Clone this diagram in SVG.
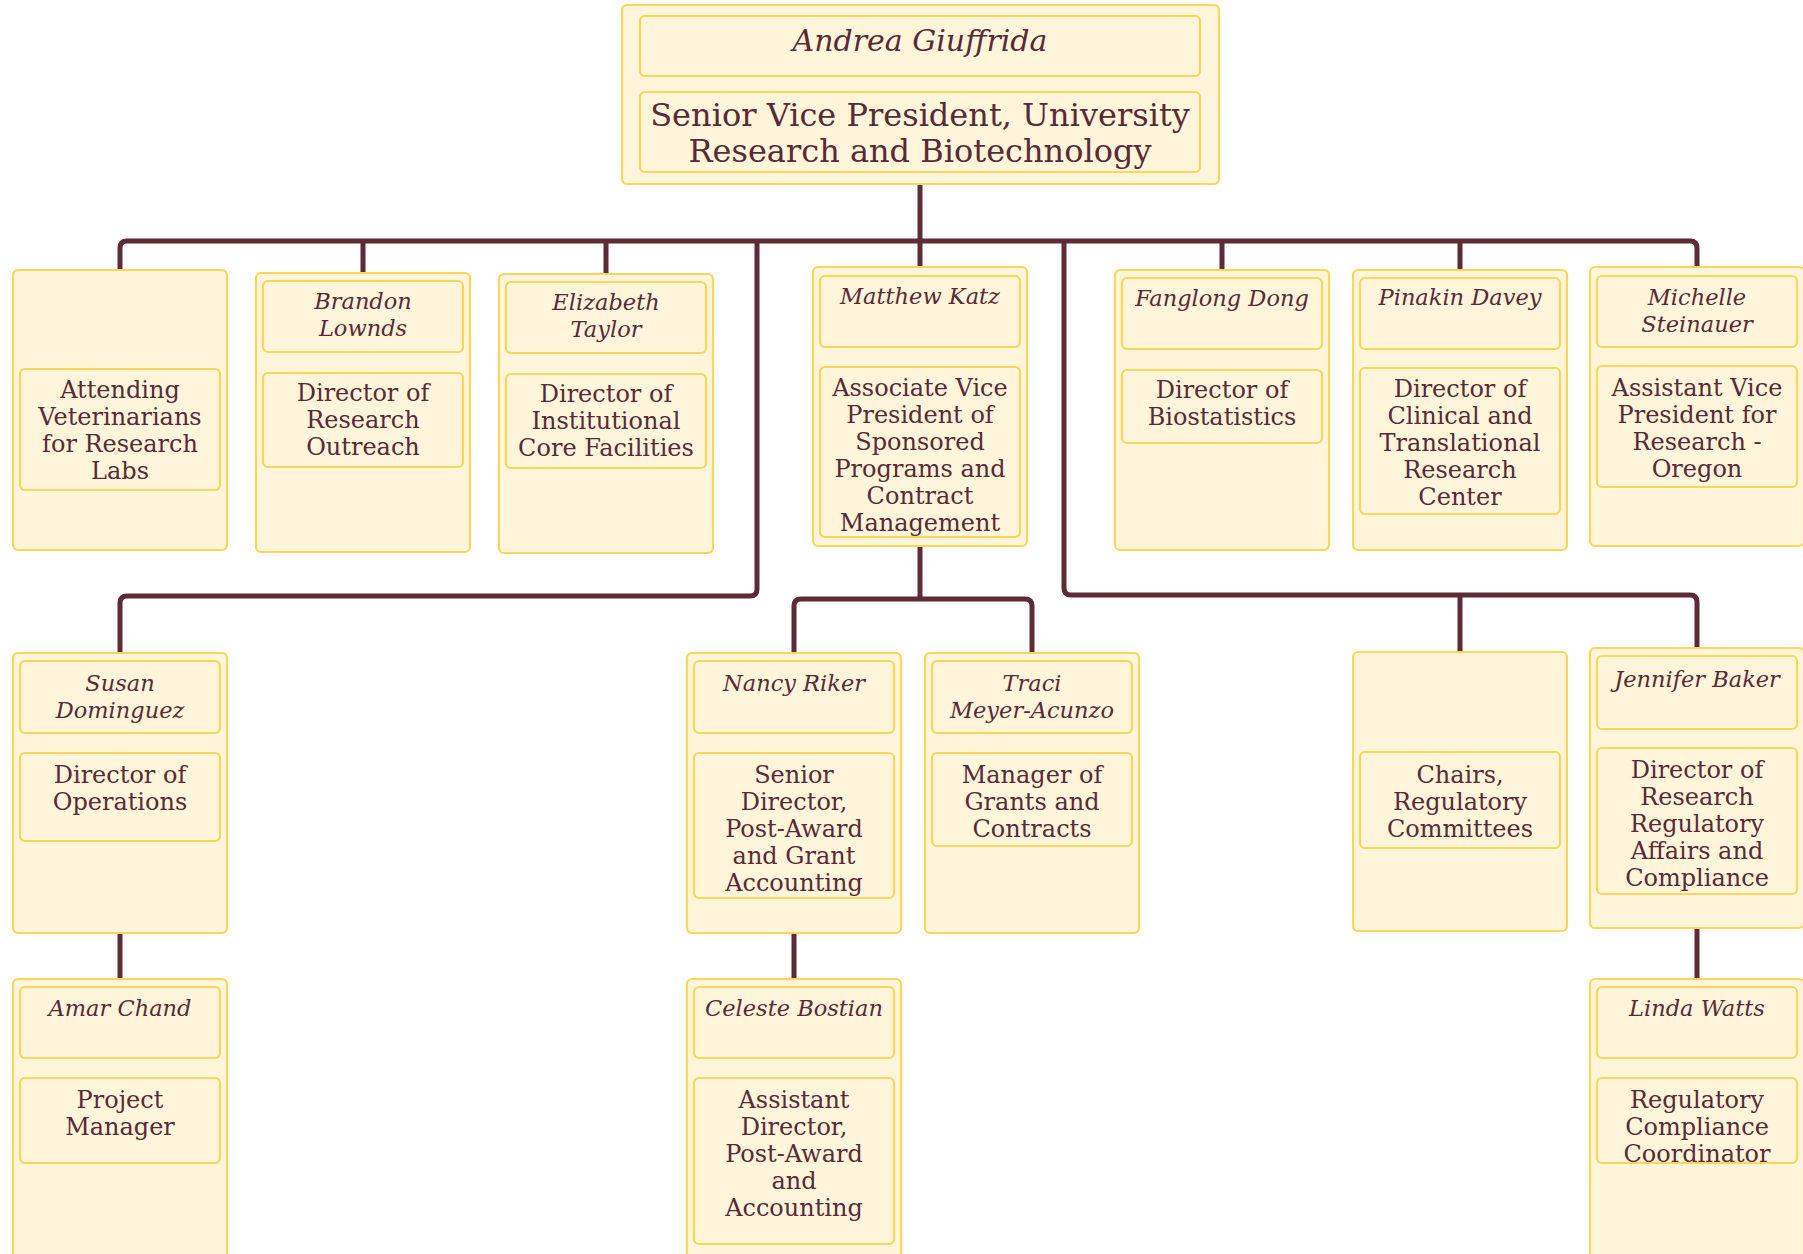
<svg xmlns="http://www.w3.org/2000/svg" width="1803" height="1254" viewBox="0 0 1803 1254">
<style>
.outer{fill:#fff5da;stroke:#fcd55a;stroke-width:2.2}
.inner{fill:#fff5da;stroke:#fcd55a;stroke-width:2.2}
.nm{font-family:"DejaVu Serif","Liberation Serif",serif;font-style:italic;font-size:22.5px;fill:#5a2a35;text-anchor:middle;transform:translateY(2px)}
.tt{font-family:"DejaVu Serif","Liberation Serif",serif;font-size:24px;fill:#5a2a35;text-anchor:middle;transform:translateY(2px)}
.top-nm{font-family:"DejaVu Serif","Liberation Serif",serif;font-style:italic;font-size:30px;fill:#5a2a35;text-anchor:middle}
.top-tt{font-family:"DejaVu Serif","Liberation Serif",serif;font-size:32px;fill:#5a2a35;text-anchor:middle}
.conn{fill:none;stroke:#5c2b36;stroke-width:5;stroke-linejoin:round}
</style>
<rect width="1803" height="1254" fill="#ffffff"/>
<g id="connectors">
<path class="conn" d="M920,184 V241"/>
<path class="conn" d="M120,270 V248 Q120,241 127,241 H1690 Q1697,241 1697,248 V267"/>
<path class="conn" d="M363,241 V273"/>
<path class="conn" d="M606,241 V274"/>
<path class="conn" d="M920,241 V267"/>
<path class="conn" d="M1222,241 V270"/>
<path class="conn" d="M1460,241 V270"/>
<path class="conn" d="M757,241 V589 Q757,596 750,596 H127 Q120,596 120,603 V653"/>
<path class="conn" d="M1064,241 V588 Q1064,595 1071,595 H1690 Q1697,595 1697,602 V648"/>
<path class="conn" d="M1460,595 V652"/>
<path class="conn" d="M920,546 V599"/>
<path class="conn" d="M794,653 V606 Q794,599 801,599 H1025 Q1032,599 1032,606 V653"/>
<path class="conn" d="M120,933 V979"/>
<path class="conn" d="M794,933 V979"/>
<path class="conn" d="M1697,928 V979"/>
</g>
<g id="n-andrea">
<rect class="outer" x="622" y="5" width="597" height="179" rx="5"/>
<rect class="inner" x="640" y="16" width="560" height="60" rx="5"/>
<rect class="inner" x="640" y="92" width="560" height="80" rx="5"/>
<text class="top-nm" x="920" y="51">Andrea Giuffrida</text>
<text class="top-tt" x="920"><tspan x="920" y="126">Senior Vice President, University</tspan><tspan x="920" y="162">Research and Biotechnology</tspan></text>
</g>
<g id="n-attending">
<rect class="outer" x="13" y="270" width="214" height="280" rx="5"/>
<rect class="inner" x="20" y="369" width="200" height="121" rx="5"/>
<text class="tt"><tspan x="120" y="396">Attending</tspan><tspan x="120" y="423">Veterinarians</tspan><tspan x="120" y="450">for Research</tspan><tspan x="120" y="477">Labs</tspan></text>
</g>
<g id="n-brandon">
<rect class="outer" x="256" y="273" width="214" height="279" rx="5"/>
<rect class="inner" x="263" y="281" width="200" height="71" rx="5"/>
<rect class="inner" x="263" y="373" width="200" height="94" rx="5"/>
<text class="nm"><tspan x="363" y="307">Brandon</tspan><tspan x="363" y="334">Lownds</tspan></text>
<text class="tt"><tspan x="363" y="399">Director of</tspan><tspan x="363" y="426">Research</tspan><tspan x="363" y="453">Outreach</tspan></text>
</g>
<g id="n-elizabeth">
<rect class="outer" x="499" y="274" width="214" height="279" rx="5"/>
<rect class="inner" x="506" y="282" width="200" height="71" rx="5"/>
<rect class="inner" x="506" y="374" width="200" height="94" rx="5"/>
<text class="nm"><tspan x="606" y="308">Elizabeth</tspan><tspan x="606" y="335">Taylor</tspan></text>
<text class="tt"><tspan x="606" y="400">Director of</tspan><tspan x="606" y="427">Institutional</tspan><tspan x="606" y="454">Core Facilities</tspan></text>
</g>
<g id="n-matthew">
<rect class="outer" x="813" y="267" width="214" height="279" rx="5"/>
<rect class="inner" x="820" y="276" width="200" height="71" rx="5"/>
<rect class="inner" x="820" y="367" width="200" height="170" rx="5"/>
<text class="nm"><tspan x="920" y="302">Matthew Katz</tspan></text>
<text class="tt"><tspan x="920" y="394">Associate Vice</tspan><tspan x="920" y="421">President of</tspan><tspan x="920" y="448">Sponsored</tspan><tspan x="920" y="475">Programs and</tspan><tspan x="920" y="502">Contract</tspan><tspan x="920" y="529">Management</tspan></text>
</g>
<g id="n-fanglong">
<rect class="outer" x="1115" y="270" width="214" height="280" rx="5"/>
<rect class="inner" x="1122" y="278" width="200" height="71" rx="5"/>
<rect class="inner" x="1122" y="370" width="200" height="73" rx="5"/>
<text class="nm"><tspan x="1222" y="304">Fanglong Dong</tspan></text>
<text class="tt"><tspan x="1222" y="396">Director of</tspan><tspan x="1222" y="423">Biostatistics</tspan></text>
</g>
<g id="n-pinakin">
<rect class="outer" x="1353" y="270" width="214" height="280" rx="5"/>
<rect class="inner" x="1360" y="278" width="200" height="71" rx="5"/>
<rect class="inner" x="1360" y="368" width="200" height="146" rx="5"/>
<text class="nm"><tspan x="1460" y="303">Pinakin Davey</tspan></text>
<text class="tt"><tspan x="1460" y="395">Director of</tspan><tspan x="1460" y="422">Clinical and</tspan><tspan x="1460" y="449">Translational</tspan><tspan x="1460" y="476">Research</tspan><tspan x="1460" y="503">Center</tspan></text>
</g>
<g id="n-michelle">
<rect class="outer" x="1590" y="267" width="214" height="279" rx="5"/>
<rect class="inner" x="1597" y="276" width="200" height="71" rx="5"/>
<rect class="inner" x="1597" y="366" width="200" height="121" rx="5"/>
<text class="nm"><tspan x="1697" y="303">Michelle</tspan><tspan x="1697" y="330">Steinauer</tspan></text>
<text class="tt"><tspan x="1697" y="394">Assistant Vice</tspan><tspan x="1697" y="421">President for</tspan><tspan x="1697" y="448">Research -</tspan><tspan x="1697" y="475">Oregon</tspan></text>
</g>
<g id="n-susan">
<rect class="outer" x="13" y="653" width="214" height="280" rx="5"/>
<rect class="inner" x="20" y="661" width="200" height="72" rx="5"/>
<rect class="inner" x="20" y="753" width="200" height="88" rx="5"/>
<text class="nm"><tspan x="120" y="689">Susan</tspan><tspan x="120" y="716">Dominguez</tspan></text>
<text class="tt"><tspan x="120" y="781">Director of</tspan><tspan x="120" y="808">Operations</tspan></text>
</g>
<g id="n-nancy">
<rect class="outer" x="687" y="653" width="214" height="280" rx="5"/>
<rect class="inner" x="694" y="661" width="200" height="72" rx="5"/>
<rect class="inner" x="694" y="753" width="200" height="145" rx="5"/>
<text class="nm"><tspan x="794" y="689">Nancy Riker</tspan></text>
<text class="tt"><tspan x="794" y="781">Senior</tspan><tspan x="794" y="808">Director,</tspan><tspan x="794" y="835">Post-Award</tspan><tspan x="794" y="862">and Grant</tspan><tspan x="794" y="889">Accounting</tspan></text>
</g>
<g id="n-traci">
<rect class="outer" x="925" y="653" width="214" height="280" rx="5"/>
<rect class="inner" x="932" y="661" width="200" height="72" rx="5"/>
<rect class="inner" x="932" y="753" width="200" height="93" rx="5"/>
<text class="nm"><tspan x="1032" y="689">Traci</tspan><tspan x="1032" y="716">Meyer-Acunzo</tspan></text>
<text class="tt"><tspan x="1032" y="781">Manager of</tspan><tspan x="1032" y="808">Grants and</tspan><tspan x="1032" y="835">Contracts</tspan></text>
</g>
<g id="n-chairs">
<rect class="outer" x="1353" y="652" width="214" height="279" rx="5"/>
<rect class="inner" x="1360" y="752" width="200" height="96" rx="5"/>
<text class="tt"><tspan x="1460" y="781">Chairs,</tspan><tspan x="1460" y="808">Regulatory</tspan><tspan x="1460" y="835">Committees</tspan></text>
</g>
<g id="n-jennifer">
<rect class="outer" x="1590" y="648" width="214" height="280" rx="5"/>
<rect class="inner" x="1597" y="656" width="200" height="73" rx="5"/>
<rect class="inner" x="1597" y="748" width="200" height="146" rx="5"/>
<text class="nm"><tspan x="1697" y="685">Jennifer Baker</tspan></text>
<text class="tt"><tspan x="1697" y="776">Director of</tspan><tspan x="1697" y="803">Research</tspan><tspan x="1697" y="830">Regulatory</tspan><tspan x="1697" y="857">Affairs and</tspan><tspan x="1697" y="884">Compliance</tspan></text>
</g>
<g id="n-amar">
<rect class="outer" x="13" y="979" width="214" height="290" rx="5"/>
<rect class="inner" x="20" y="987" width="200" height="71" rx="5"/>
<rect class="inner" x="20" y="1078" width="200" height="85" rx="5"/>
<text class="nm"><tspan x="120" y="1014">Amar Chand</tspan></text>
<text class="tt"><tspan x="120" y="1106">Project</tspan><tspan x="120" y="1133">Manager</tspan></text>
</g>
<g id="n-celeste">
<rect class="outer" x="687" y="979" width="214" height="290" rx="5"/>
<rect class="inner" x="694" y="987" width="200" height="71" rx="5"/>
<rect class="inner" x="694" y="1078" width="200" height="166" rx="5"/>
<text class="nm"><tspan x="794" y="1014">Celeste Bostian</tspan></text>
<text class="tt"><tspan x="794" y="1106">Assistant</tspan><tspan x="794" y="1133">Director,</tspan><tspan x="794" y="1160">Post-Award</tspan><tspan x="794" y="1187">and</tspan><tspan x="794" y="1214">Accounting</tspan></text>
</g>
<g id="n-linda">
<rect class="outer" x="1590" y="979" width="214" height="290" rx="5"/>
<rect class="inner" x="1597" y="987" width="200" height="71" rx="5"/>
<rect class="inner" x="1597" y="1078" width="200" height="85" rx="5"/>
<text class="nm"><tspan x="1697" y="1014">Linda Watts</tspan></text>
<text class="tt"><tspan x="1697" y="1106">Regulatory</tspan><tspan x="1697" y="1133">Compliance</tspan><tspan x="1697" y="1160">Coordinator</tspan></text>
</g>
</svg>
